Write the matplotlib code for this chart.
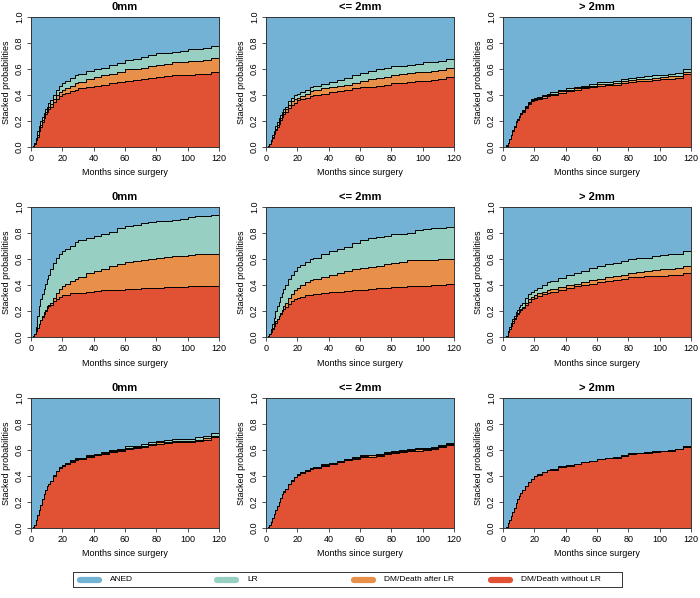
import numpy as np
import matplotlib
matplotlib.use('Agg')
import matplotlib.pyplot as plt

plt.rcParams['font.family'] = ['Liberation Sans', 'DejaVu Sans']

# months since surgery (read points, drawn as steps)
months = [0, 1, 2, 3, 4, 5, 6, 7, 8, 9, 10, 11, 12, 14, 16, 18, 20, 22, 25, 28, 30, 35, 40,
          45, 50, 55, 60, 65, 70, 75, 80, 85, 90, 95, 100, 105, 110, 115, 120]

titles = ['0mm', '<= 2mm', '> 2mm']
states = ['ANED', 'LR', 'DM/Death after LR', 'DM/Death without LR']

# stacked upper bounds per panel: DM/Death without LR (red), + DM/Death after LR (orange), + LR (teal)
r1_0mm_red = [0, .005, .02, .05, .08, .12, .15, .19, .22, .25, .27, .29, .31, .345, .37, .39, .405, .415, .43, .44,
              .45, .46, .47, .48, .49, .50, .51, .515, .52, .53, .54, .545, .55, .55, .555, .56, .56, .575, .58]
r1_0mm_orange = [0, .005, .02, .05, .09, .13, .17, .21, .24, .27, .29, .31, .33, .37, .40, .42, .435, .45, .47, .49,
                 .50, .52, .54, .55, .56, .58, .60, .60, .61, .62, .63, .64, .65, .655, .66, .665, .67, .685, .69]
r1_0mm_teal = [0, .01, .03, .07, .12, .16, .20, .23, .26, .29, .31, .34, .36, .40, .44, .47, .49, .51, .53, .55,
               .56, .585, .60, .61, .63, .645, .67, .68, .69, .71, .72, .725, .73, .74, .75, .755, .76, .775, .78]

r1_le2_red = [0, .005, .02, .045, .07, .10, .13, .155, .18, .205, .23, .25, .27, .30, .32, .34, .36, .37, .38, .395,
              .40, .41, .42, .43, .44, .45, .46, .465, .47, .48, .49, .495, .50, .505, .51, .515, .52, .535, .54]
r1_le2_orange = [0, .005, .02, .05, .08, .11, .14, .17, .20, .225, .25, .27, .29, .325, .35, .37, .38, .395, .41, .43,
                 .44, .45, .46, .47, .48, .495, .51, .52, .53, .54, .55, .56, .57, .575, .58, .585, .59, .61, .62]
r1_le2_teal = [0, .005, .02, .055, .09, .125, .16, .19, .22, .245, .27, .29, .31, .35, .38, .40, .41, .425, .44, .46,
               .47, .485, .50, .515, .53, .55, .57, .585, .60, .61, .62, .625, .63, .64, .65, .655, .66, .68, .68]

r1_gt2_red = [0, .003, .01, .03, .06, .09, .12, .155, .19, .21, .23, .25, .27, .30, .33, .35, .36, .37, .38, .39,
              .40, .415, .43, .44, .45, .46, .47, .475, .48, .49, .50, .505, .51, .515, .52, .525, .53, .56, .56]
r1_gt2_orange = [0, .003, .01, .03, .06, .09, .12, .155, .19, .212, .233, .254, .275, .307, .338, .36, .37, .38, .39,
                 .401, .411, .427, .442, .452, .462, .473, .483, .488, .494, .504, .515, .52, .526, .532, .537, .543,
                 .548, .578, .58]
r1_gt2_teal = [0, .003, .012, .033, .065, .096, .127, .162, .197, .219, .24, .261, .282, .314, .345, .367, .378, .388,
               .398, .41, .42, .436, .452, .462, .473, .485, .497, .503, .51, .52, .532, .538, .545, .55, .556, .562,
               .567, .597, .60]

r2_0mm_red = [0, .005, .02, .045, .07, .10, .13, .155, .18, .20, .22, .235, .25, .275, .295, .31, .32, .325, .335,
              .338, .34, .35, .355, .358, .36, .365, .37, .372, .375, .378, .38, .382, .385, .387, .39, .39, .39,
              .392, .393]
r2_0mm_orange = [0, .005, .02, .045, .07, .10, .13, .16, .19, .21, .235, .25, .265, .30, .34, .37, .39, .41, .43, .45,
                 .46, .49, .51, .525, .545, .56, .58, .585, .59, .60, .61, .615, .62, .625, .63, .635, .64, .64, .645]
r2_0mm_teal = [0, .005, .02, .08, .16, .24, .29, .33, .37, .41, .45, .48, .52, .57, .61, .64, .66, .68, .70, .73,
               .745, .76, .775, .79, .81, .835, .855, .865, .875, .885, .89, .895, .90, .905, .925, .93, .93, .935, .94]

r2_le2_red = [0, .005, .02, .04, .06, .085, .11, .135, .16, .18, .20, .215, .23, .255, .275, .29, .30, .31, .32, .325,
              .33, .34, .345, .35, .355, .36, .365, .37, .375, .38, .385, .387, .39, .392, .395, .398, .40, .405, .41]
r2_le2_orange = [0, .005, .02, .045, .07, .095, .12, .14, .16, .185, .21, .235, .26, .30, .33, .36, .38, .40, .42, .44,
                 .45, .465, .48, .495, .51, .52, .53, .54, .55, .56, .57, .58, .59, .59, .59, .595, .60, .60, .605]
r2_le2_teal = [0, .005, .02, .06, .10, .15, .20, .235, .27, .305, .34, .37, .40, .445, .48, .51, .54, .555, .58, .60,
               .61, .635, .66, .675, .69, .72, .75, .76, .77, .78, .79, .795, .80, .82, .83, .835, .84, .845, .85]

r2_gt2_red = [0, .003, .01, .035, .06, .085, .11, .135, .16, .175, .19, .205, .22, .25, .27, .29, .30, .315, .33, .34,
              .35, .365, .38, .39, .40, .41, .42, .43, .44, .45, .46, .465, .47, .47, .47, .475, .48, .49, .50]
r2_gt2_orange = [0, .003, .01, .035, .06, .09, .12, .145, .17, .185, .20, .215, .23, .265, .29, .31, .32, .335, .35,
                 .36, .37, .385, .40, .41, .42, .435, .45, .46, .47, .48, .49, .50, .51, .515, .52, .525, .53, .55, .56]
r2_gt2_teal = [0, .003, .01, .045, .08, .11, .14, .165, .19, .21, .23, .245, .26, .30, .33, .35, .36, .38, .40, .42,
               .43, .455, .48, .495, .51, .53, .55, .56, .57, .585, .60, .605, .61, .62, .63, .635, .64, .66, .66]

r3_0mm_red = [0, .005, .02, .06, .10, .14, .18, .22, .26, .29, .32, .34, .36, .40, .435, .46, .48, .495, .51, .525,
              .53, .55, .56, .57, .585, .595, .61, .615, .625, .64, .65, .655, .66, .66, .66, .67, .68, .70, .71]
r3_0mm_orange = [0, .005, .02, .06, .10, .14, .18, .22, .26, .29, .32, .34, .361, .402, .437, .463, .483, .498, .514,
                 .529, .534, .554, .565, .575, .59, .60, .616, .621, .632, .647, .658, .663, .668, .669, .669, .68,
                 .69, .71, .72]
r3_0mm_teal = [0, .005, .02, .06, .10, .14, .18, .22, .26, .29, .321, .342, .363, .405, .441, .467, .488, .503, .52,
               .535, .541, .561, .573, .584, .60, .61, .627, .632, .644, .66, .671, .677, .682, .684, .685, .697, .707,
               .727, .737]

r3_le2_red = [0, .005, .02, .05, .08, .11, .14, .17, .20, .23, .26, .28, .30, .335, .365, .39, .41, .425, .44, .455,
              .46, .48, .49, .505, .52, .53, .545, .55, .555, .57, .58, .585, .59, .595, .60, .605, .62, .635, .64]
r3_le2_orange = [0, .005, .02, .05, .08, .11, .14, .17, .20, .23, .26, .28, .301, .337, .367, .393, .413, .429, .444,
                 .46, .465, .485, .496, .511, .527, .537, .552, .558, .563, .578, .588, .594, .599, .604, .61, .615,
                 .63, .645, .65]
r3_le2_teal = [0, .005, .02, .05, .08, .11, .14, .17, .20, .23, .261, .281, .302, .339, .37, .396, .417, .433, .449,
               .465, .47, .49, .502, .517, .533, .544, .559, .565, .57, .586, .596, .602, .608, .613, .619, .624, .64,
               .655, .66]

r3_gt2_red = [0, .003, .01, .035, .06, .09, .12, .155, .19, .22, .25, .27, .29, .325, .355, .38, .40, .41, .43, .445,
              .45, .47, .48, .49, .505, .515, .53, .535, .54, .555, .57, .575, .58, .585, .59, .595, .605, .625, .63]
r3_gt2_orange = [0, .003, .01, .035, .06, .09, .12, .155, .19, .22, .25, .27, .29, .325, .355, .38, .401, .411, .431,
                 .446, .452, .472, .482, .492, .507, .517, .532, .537, .542, .557, .572, .577, .582, .587, .592, .597,
                 .607, .627, .632]
r3_gt2_teal = [0, .003, .01, .035, .06, .09, .12, .155, .19, .22, .25, .27, .29, .325, .355, .38, .402, .412, .432,
               .447, .453, .474, .484, .494, .509, .519, .534, .539, .544, .559, .574, .579, .584, .589, .594, .599,
               .609, .629, .635]

panels = [
    [(r1_0mm_red, r1_0mm_orange, r1_0mm_teal), (r1_le2_red, r1_le2_orange, r1_le2_teal), (r1_gt2_red, r1_gt2_orange, r1_gt2_teal)],
    [(r2_0mm_red, r2_0mm_orange, r2_0mm_teal), (r2_le2_red, r2_le2_orange, r2_le2_teal), (r2_gt2_red, r2_gt2_orange, r2_gt2_teal)],
    [(r3_0mm_red, r3_0mm_orange, r3_0mm_teal), (r3_le2_red, r3_le2_orange, r3_le2_teal), (r3_gt2_red, r3_gt2_orange, r3_gt2_teal)],
]

c_aned = '#73b2d5'
c_lr = '#98cfc3'
c_after = '#e8904a'
c_without = '#e05233'
colors = [c_aned, c_lr, c_after, c_without]

W, H = 700, 598
fig = plt.figure(figsize=(W / 100, H / 100), dpi=100)

lefts = [31, 266, 503]
tops = [17, 207, 398]
aw, ah = 188, 130

t = np.array(months)
for i in range(3):
    for j in range(3):
        red, orange, teal = [np.array(v) for v in panels[i][j]]
        ax = fig.add_axes([lefts[j] / W, 1 - (tops[i] + ah) / H, aw / W, ah / H])
        ax.set_facecolor(c_aned)
        ax.fill_between(t, 0, red, step='post', color=c_without, lw=0)
        ax.fill_between(t, red, orange, step='post', color=c_after, lw=0)
        ax.fill_between(t, orange, teal, step='post', color=c_lr, lw=0)
        for line in (red, orange, teal):
            ax.step(t, line, where='post', color='black', lw=0.7)
        ax.set_xlim(0, 120)
        ax.set_ylim(0, 1)
        ax.set_xticks(range(0, 121, 20))
        yt = np.arange(0, 1.01, 0.2)
        ax.set_yticks(yt)
        ax.set_yticklabels(['%.1f' % v for v in yt], rotation=90, va='center')
        ax.tick_params(labelsize=6.5, length=3, width=0.6, pad=2, color='#333333')
        for s in ax.spines.values():
            s.set_linewidth(0.7)
            s.set_color('#333333')
        ax.set_title(titles[j], fontsize=8, fontweight='bold', pad=5)
        ax.set_ylabel('Stacked probabilities', fontsize=6.5, labelpad=3)
        ax.set_xlabel('Months since surgery', fontsize=6.5, labelpad=4)

# legend box along the bottom, four evenly spaced entries
lax = fig.add_axes([73 / W, 1 - 587 / H, 549 / W, 15 / H])
lax.set_xlim(0, 549)
lax.set_ylim(0, 1)
lax.set_xticks([])
lax.set_yticks([])
for s in lax.spines.values():
    s.set_linewidth(0.7)
    s.set_color('#333333')
for k, (lab, c) in enumerate(zip(states, colors)):
    x0 = 4 + 137 * k
    lax.plot([x0 + 3, x0 + 22], [0.5, 0.5], color=c, lw=4.5, solid_capstyle='round')
    lax.text(x0 + 33, 0.5, lab, fontsize=6, va='center', ha='left')

fig.savefig('out.png', dpi=100)
